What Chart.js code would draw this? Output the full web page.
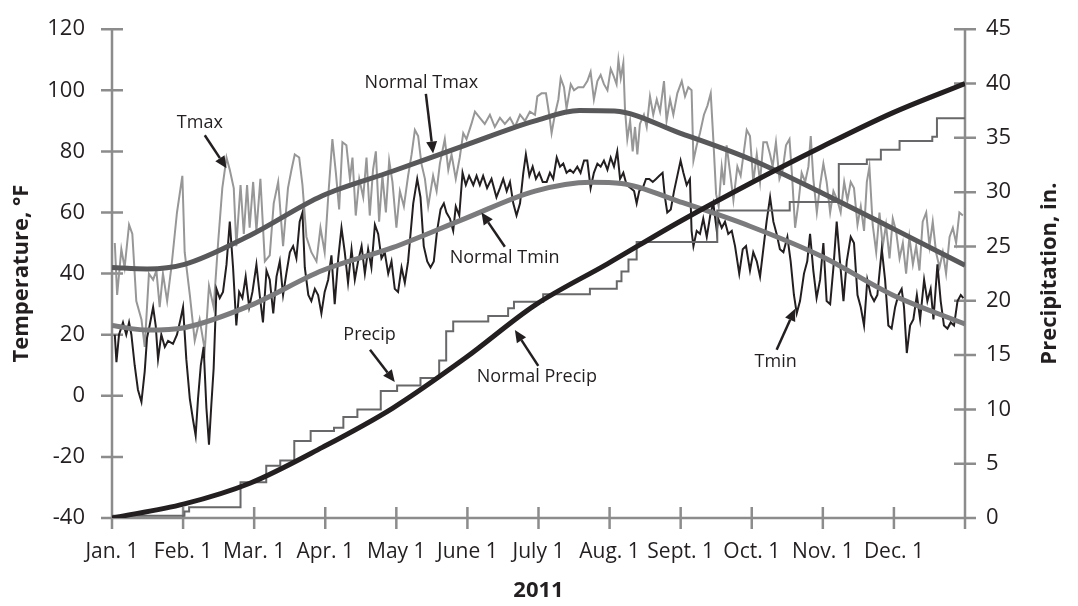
<!DOCTYPE html>
<html>
<head>
<meta charset="utf-8">
<title>2011 temperature and precipitation</title>
<script src="https://cdn.jsdelivr.net/npm/chart.js@4.4.1/dist/chart.umd.min.js"></script>
<style>
  html, body { margin: 0; padding: 0; background: #ffffff; }
  #wrap { width: 1078px; height: 606px; }
</style>
</head>
<body>
<div id="wrap"><canvas id="climateChart" width="1078" height="606"></canvas></div>
<script>
// x axis: one tick per month, evenly spaced over the year (day 0..365)
const monthLabels = ['Jan. 1', 'Feb. 1', 'Mar. 1', 'Apr. 1', 'May 1', 'June 1',
                     'July 1', 'Aug. 1', 'Sept. 1', 'Oct. 1', 'Nov. 1', 'Dec. 1'];
const monthTicks = monthLabels.map((_, i) => i * 365 / 12).concat([365]);

// daily max temperature, [day of year, °F]
const tmax = [
  [1.2,50],[2.2,33],[4,48],[5.4,42],[7.3,56],[8.7,53],[10.4,31],[12.6,25],[14,16],[15.8,40],
  [17.6,38],[19,41],[20.4,29],[21.8,40],[23.6,31],[25.4,42],[27.8,60],[30.1,72],[31.1,47],[33.3,33],
  [35.4,18],[37.5,25],[39.7,15],[41.5,36],[43.5,29],[45.4,50],[47.2,68],[49,78],[50.4,74],[52.1,68],
  [53.2,49],[55,69],[56.4,53],[57.8,69],[58.9,55],[60.4,70],[61.8,54],[63.5,71],[65.4,44],[67.5,46],
  [69.2,63],[71.1,70],[73.2,49],[75.3,68],[76.8,74],[78.2,79],[80.1,78],[81.5,69],[83.2,52],[85.3,47],
  [87.5,44],[89.2,55],[91,47],[92.5,65],[94.3,84],[95.8,73],[97.2,61],[98.6,83],[100.3,82],[101.8,71],
  [102.9,78],[104.3,59],[105.8,71],[107.5,65],[108.9,78],[110.3,59],[111.7,74],[112.9,80],[114.3,57],[115.7,72],
  [117.2,60],[118.6,77],[120,70],[121.7,55],[123.2,67],[124.9,62],[126.7,72],[128.2,79],[129.6,87],[131,85],
  [132.4,76],[133.9,71],[135.3,62],[137.4,72],[138.9,67],[140.3,76],[142.4,84],[143.9,74],[145.3,79],[147.1,71],
  [148.8,78],[150.3,86],[151.7,84],[153.8,89],[155.3,93],[157.4,91],[159.5,89],[161.7,92],[163.8,88],[166,91],
  [168.1,89],[170.3,91],[172.4,88],[174.6,92],[176.7,90],[178.8,93],[181,92],[182,98],[183.8,99],[185.7,99],
  [187.1,92],[188.1,86],[189.5,92],[191,97],[192,104],[193.4,101],[194.5,94],[196.3,102],[197.7,100],[199.5,101],
  [201.7,101],[203.4,103],[204.8,106],[206.2,97],[207.7,103],[209.1,105],[210.5,102],[212,100],[213.4,107],[214.5,105],
  [215.9,102],[216.7,110],[217.7,104],[218.8,109],[219.5,94],[220.5,84],[221.7,90],[222.8,80],[223.8,88],[224.8,79],
  [225.9,89],[227.6,92],[228.8,88],[230.2,98],[231.6,92],[233.1,97],[234.5,93],[236.2,103],[237.3,90],[238.8,97],
  [240.2,92],[241.9,99],[243.8,103],[245.2,98],[246.6,101],[248,100],[248.8,77],[250.2,82],[251.6,86],[253.3,92],
  [254.8,95],[256.2,99],[257.3,84],[258.5,66],[259.6,62],[260.9,75],[261.9,69],[263,82],[264.5,73],[265.9,64],
  [267.6,75],[269,72],[270.4,80],[271.6,87],[273,85],[274.4,70],[275.9,79],[277.3,70],[278.7,83],[280.2,83],
  [281.6,79],[282.7,75],[284.1,83],[285.6,71],[287,74],[288.4,82],[289.9,84],[291,72],[292.3,55],[293.7,63],
  [295.1,73],[296.6,70],[298,75],[299,85],[300.1,71],[301.6,60],[303,69],[304.4,76],[305.8,70],[307.3,60],
  [308.7,67],[310.4,64],[311.8,60],[313.3,70],[314.7,64],[316.1,70],[317.5,68],[319,56],[320.4,62],[321.8,54],
  [323,70],[324.1,75],[325.5,56],[327,47],[328.4,60],[329.8,49],[331.2,56],[332.7,45],[334.1,58],[335.5,54],
  [337,45],[338.4,50],[339.8,40],[341.2,52],[342.7,43],[344.1,49],[345.5,41],[346.9,57],[348.4,60],[349.8,49],
  [351.2,57],[352.6,47],[354.1,42],[355.5,47],[356.9,40],[358.4,52],[359.8,55],[361.2,50],[362.6,60],[364.1,59]
];

// daily min temperature, [day of year, °F]
const tmin = [
  [1.2,20],[1.9,11],[3,20],[4.7,24],[6.1,20],[7.3,24],[8.3,20],[9.7,10],[11.1,2],[12.6,-2],
  [14,8],[15,19],[16.1,23],[17.6,29],[18.7,23],[19.7,12],[21.1,20],[22.6,16],[24,18],[26.1,17],
  [27.8,20],[29.3,25],[30.4,29],[31.8,12],[33.3,-1],[34.7,-8],[35.8,-13],[36.8,-1],[38,10],[39.2,16],
  [40.4,-4],[41.5,-16],[42.5,-3],[43.5,9],[44.7,35],[46.1,32],[47.5,34],[49,43],[50.4,57],[51.8,42],
  [53.2,23],[54.4,34],[55.8,32],[57.2,39],[58.7,29],[60.1,34],[61.8,43],[63.2,33],[64.6,24],[66.1,41],
  [67.5,38],[69,27],[70.4,39],[71.8,44],[73.2,33],[74.6,40],[76.1,47],[77.5,49],[78.9,45],[80.3,57],
  [81.5,60],[82.5,42],[84,33],[85.3,31],[86.8,35],[88.2,33],[89.6,27],[91,34],[92.5,38],[93.9,46],
  [95.3,30],[96.8,45],[98.2,55],[99.6,47],[101,37],[102.5,48],[103.9,38],[105.3,44],[106.8,49],[108.2,40],
  [109.6,48],[111,42],[112.5,56],[113.9,53],[115.3,45],[116.7,47],[118.2,40],[119.6,44],[121,35],[122.4,34],
  [123.9,42],[125.3,37],[126.7,44],[128.9,63],[130.6,71],[132,65],[133.4,49],[134.9,44],[136.3,42],[137.7,44],
  [139.1,54],[140.6,61],[142,63],[143.1,60],[144.6,58],[146,54],[147.1,62],[148.6,59],[150,73],[151.4,69],
  [152.8,72],[154.6,69],[156,72],[157.4,69],[158.8,72],[160.5,68],[162.4,71],[164.5,65],[166,68],[167.4,71],
  [168.9,67],[170.3,70],[171.7,63],[173.1,59],[174.6,63],[176,73],[177.1,79],[178.6,72],[180,75],[181.4,71],
  [182.8,73],[184.3,70],[186,70],[187.4,73],[188.8,71],[190.3,78],[191.7,75],[193.1,76],[194.5,73],[196,74],
  [197.4,73],[199.1,75],[200.5,73],[202,77],[203.4,77],[204.8,68],[206.2,73],[207.7,76],[209.1,75],[210.5,77],
  [212,74],[213.4,78],[214.8,75],[216.2,80],[217.4,71],[218.8,73],[220.2,69],[221.9,68],[223.4,67],[224.5,63],
  [225.6,67],[227.1,68],[228.5,71],[229.9,71],[231.4,70],[232.8,71],[234.2,72],[235.6,73],[236.6,65],[237.6,60],
  [239.1,61],[240.5,67],[241.9,72],[243.3,77],[244.5,73],[245.9,69],[247.3,71],[248,54],[248.8,49],[250.2,54],
  [251.6,53],[253,58],[254.5,52],[256.2,60],[257.3,63],[258.8,54],[259.4,58],[260.9,55],[262.3,57],[263.7,53],
  [265.2,54],[266.6,49],[268.4,40],[269.9,48],[271.3,49],[273,41],[274.4,47],[275.9,44],[277.3,39],[278.7,48],
  [280.1,57],[281.6,65],[283,57],[284.4,53],[285.8,48],[287.3,47],[289,52],[290.4,44],[291.8,33],[293,27],
  [294.4,31],[296.1,40],[297.5,44],[298.7,53],[300.1,41],[301.5,32],[303,38],[304.4,50],[305.8,31],[307.3,30],
  [308.7,42],[310.1,57],[311.5,44],[313,31],[314.4,44],[316.1,52],[317.5,50],[319,33],[320.4,29],[321.8,23],
  [323.2,38],[324.7,33],[326.1,31],[327.5,33],[329.4,48],[330.8,38],[332.2,23],[333.6,22],[335.1,29],[336.5,33],
  [337.9,35],[338.9,29],[340.1,14],[341.5,23],[342.9,25],[344.4,33],[345.8,25],[347.5,38],[348.9,31],[350.3,35],
  [351.5,25],[353.2,43],[354.6,31],[356,23],[357.5,22],[358.9,24],[360.3,23],[361.8,31],[363.2,33],[364.3,32]
];

// normals, [day of year, °F]
const normalTmax = [[0,42],[15,41.5],[31,43],[59,52.5],[90,65.5],[120,73.5],[151,82],[181,90],
                    [200,93.4],[215,93.2],[243,86],[273,77.5],[304,66.3],[334,54.8],[365,42.7]];
const normalTmin = [[0,23],[15,21.5],[31,22.3],[59,29.5],[90,41],[120,48.5],[151,58],[181,67],
                    [205,69.9],[218,69.5],[243,63.5],[273,55.5],[304,45.5],[334,33],[365,23.5]];

// cumulative precipitation, [day of year, in.]
const precip = [[0,0.2],[31,0.6],[33,1.0],[55,3.3],[66,4.8],[72,5.3],[78,7.1],[85,8.0],[95,8.3],[99,9.3],
                [105,10.0],[115,11.7],[122,12.2],[132,12.9],[140,14.5],[143,17.2],[146,18.1],[161,18.6],
                [169.5,19.3],[172,19.9],[184.5,20.6],[204.5,21.1],[216,21.8],[218,22.7],[221,23.8],[224.5,25.4],
                [259,28.3],[290,29.1],[311,32.6],[323,33.0],[329,33.9],[337,34.7],[351,35.1],[353,36.8],[365,36.8]];
const normalPrecip = [[0,0],[31,1.3],[59,3.2],[90,6.5],[120,10.1],[151,14.7],[181,19.6],[212,23.4],
                      [243,27.3],[273,30.8],[304,34.2],[334,37.3],[365,40.0]];

// call-out labels: text anchor and arrow, in (day, °F)
const callouts = [
  { text: 'Tmax',          at: [37.6, 89.2],  from: [39.7, 85.3],  to: [49, 74.5] },
  { text: 'Normal Tmax',   at: [132.4, 102.5], from: [134.3, 98.8], to: [137.4, 79.3] },
  { text: 'Normal Tmin',   at: [168, 45],     from: [168.1, 48.8], to: [158.1, 60] },
  { text: 'Precip',        at: [110.2, 19.8], from: [110.4, 15.1], to: [121, 4.5] },
  { text: 'Normal Precip', at: [181.8, 6.3],  from: [182.4, 9.8],  to: [172.4, 21.5] },
  { text: 'Tmin',          at: [284, 11.2],   from: [284.4, 15.1], to: [292.3, 28.5] }
];

const FONT = '"Open Sans", "Noto Sans", sans-serif';
const INK = '#231f20';
const AXIS_GRAY = '#8c8c8c';

const toXY = arr => arr.map(p => ({ x: p[0], y: p[1] }));

// axis lines with tick marks crossing both sides
const axesPlugin = {
  id: 'crossAxes',
  beforeDatasetsDraw(chart) {
    const { ctx, chartArea: a, scales } = chart;
    const half = 11;
    ctx.save();
    ctx.strokeStyle = AXIS_GRAY;
    ctx.lineWidth = 2.5;
    ctx.beginPath();
    ctx.moveTo(a.left, a.top);
    ctx.lineTo(a.left, a.bottom);
    ctx.lineTo(a.right, a.bottom);
    ctx.lineTo(a.right, a.top);
    scales.temp.ticks.forEach(t => {
      const y = scales.temp.getPixelForValue(t.value);
      ctx.moveTo(a.left - half, y); ctx.lineTo(a.left + half, y);
    });
    scales.rain.ticks.forEach(t => {
      const y = scales.rain.getPixelForValue(t.value);
      ctx.moveTo(a.right - half, y); ctx.lineTo(a.right + half, y);
    });
    scales.x.ticks.forEach(t => {
      const x = scales.x.getPixelForValue(t.value);
      ctx.moveTo(x, a.bottom - half); ctx.lineTo(x, a.bottom + half);
    });
    ctx.stroke();
    ctx.restore();
  }
};

// axis titles and arrows
const textPlugin = {
  id: 'titlesAndCallouts',
  afterDraw(chart) {
    const { ctx, chartArea: a, scales } = chart;
    const midY = (a.top + a.bottom) / 2;
    ctx.save();
    ctx.fillStyle = INK;
    ctx.textAlign = 'center';
    ctx.textBaseline = 'middle';
    ctx.font = 'bold 22px ' + FONT;
    ctx.fillText('2011', (a.left + a.right) / 2, a.bottom + 73);
    [[22, 'Temperature, °F'], [a.right + 85, 'Precipitation, in.']].forEach(([x, txt]) => {
      ctx.save();
      ctx.translate(x, midY);
      ctx.rotate(-Math.PI / 2);
      ctx.fillText(txt, 0, 0);
      ctx.restore();
    });

    ctx.font = '18px ' + FONT;
    ctx.strokeStyle = INK;
    ctx.lineWidth = 2.5;
    const px = p => [scales.x.getPixelForValue(p[0]), scales.temp.getPixelForValue(p[1])];
    callouts.forEach(c => {
      const [tx, ty] = px(c.at);
      ctx.fillText(c.text, tx, ty);
      const [x0, y0] = px(c.from);
      const [x1, y1] = px(c.to);
      const ang = Math.atan2(y1 - y0, x1 - x0);
      const head = 12, wing = 5.5;
      const bx = x1 - head * Math.cos(ang), by = y1 - head * Math.sin(ang);
      ctx.beginPath();
      ctx.moveTo(x0, y0);
      ctx.lineTo(bx, by);
      ctx.stroke();
      ctx.beginPath();
      ctx.moveTo(x1, y1);
      ctx.lineTo(bx + wing * Math.sin(ang), by - wing * Math.cos(ang));
      ctx.lineTo(bx - wing * Math.sin(ang), by + wing * Math.cos(ang));
      ctx.closePath();
      ctx.fill();
    });
    ctx.restore();
  }
};

const lineStyle = (color, width) => ({
  borderColor: color,
  backgroundColor: color,
  borderWidth: width,
  pointRadius: 0,
  fill: false
});

new Chart(document.getElementById('climateChart'), {
  type: 'line',
  data: {
    datasets: [
      { label: 'Normal Precip', data: toXY(normalPrecip), yAxisID: 'rain', order: 0,
        cubicInterpolationMode: 'monotone', ...lineStyle(INK, 5) },
      { label: 'Normal Tmax', data: toXY(normalTmax), yAxisID: 'temp', order: 1,
        cubicInterpolationMode: 'monotone', ...lineStyle('#58585a', 5) },
      { label: 'Normal Tmin', data: toXY(normalTmin), yAxisID: 'temp', order: 2,
        cubicInterpolationMode: 'monotone', ...lineStyle('#7b7b7d', 5) },
      { label: 'Precip', data: toXY(precip), yAxisID: 'rain', order: 3,
        stepped: true, ...lineStyle('#68686a', 2) },
      { label: 'Tmin', data: toXY(tmin), yAxisID: 'temp', order: 4, ...lineStyle(INK, 2) },
      { label: 'Tmax', data: toXY(tmax), yAxisID: 'temp', order: 5, ...lineStyle('#979797', 2) }
    ]
  },
  options: {
    responsive: false,
    animation: false,
    layout: { padding: { top: 20, left: 0, right: 0, bottom: 0 } },
    plugins: {
      legend: { display: false },
      tooltip: { enabled: false }
    },
    scales: {
      x: {
        type: 'linear',
        min: 0,
        max: 365,
        afterBuildTicks: scale => { scale.ticks = monthTicks.map(v => ({ value: v })); },
        afterFit: scale => { scale.height = 88; },
        grid: { display: true, drawOnChartArea: false, color: 'rgba(0,0,0,0)', tickLength: 11 },
        border: { display: false },
        ticks: {
          autoSkip: false,
          maxRotation: 0,
          padding: 10,
          color: INK,
          font: { family: FONT, size: 21 },
          callback: (value, index) => monthLabels[index] ?? ''
        }
      },
      temp: {
        position: 'left',
        min: -40,
        max: 120,
        afterFit: scale => { scale.width = 112; },
        grid: { display: true, drawOnChartArea: false, color: 'rgba(0,0,0,0)', tickLength: 11 },
        border: { display: false },
        ticks: { stepSize: 20, padding: 16, color: INK, font: { family: FONT, size: 22 } }
      },
      rain: {
        position: 'right',
        min: 0,
        max: 45,
        afterFit: scale => { scale.width = 113; },
        grid: { display: true, drawOnChartArea: false, color: 'rgba(0,0,0,0)', tickLength: 11 },
        border: { display: false },
        ticks: { stepSize: 5, padding: 10, color: INK, font: { family: FONT, size: 22 } }
      }
    }
  },
  plugins: [axesPlugin, textPlugin]
});
</script>
</body>
</html>
